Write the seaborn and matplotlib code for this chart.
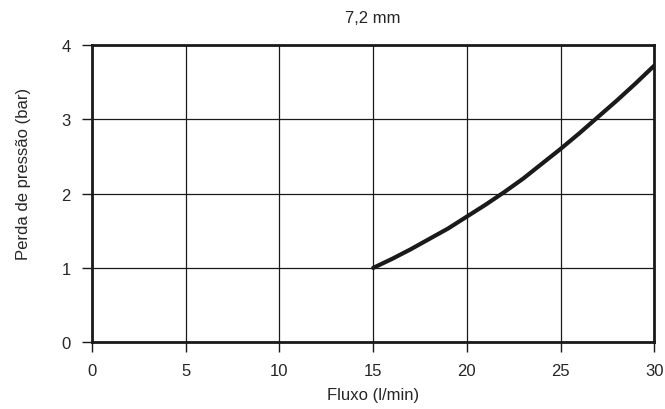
import matplotlib
matplotlib.use("Agg")
import matplotlib.pyplot as plt
import seaborn as sns
import pandas as pd

# valores (Fluxo em l/min, perda em bar)
fluxo = [15, 16, 17, 18, 19, 20, 21, 22, 23, 24, 25, 26, 27, 28, 29, 30]
perda = [1.00, 1.12, 1.25, 1.39, 1.53, 1.69, 1.85, 2.02, 2.20, 2.40, 2.60, 2.81, 3.03, 3.25, 3.48, 3.72]

df = pd.DataFrame({'fluxo': fluxo, 'perda': perda})

sns.set_style('white')
plt.rcParams['font.family'] = ['Liberation Sans', 'DejaVu Sans']

fig = plt.figure(figsize=(6.65, 4.1), dpi=100)
ax = fig.add_axes([0.1383, 0.1627, 0.8457, 0.7258])

sns.lineplot(data=df, x='fluxo', y='perda', ax=ax, color='#1a1a1a', linewidth=3)

ax.set_xlim(0, 30)
ax.set_ylim(0, 4)
ax.set_xticks([0, 5, 10, 15, 20, 25, 30])
ax.set_yticks([0, 1, 2, 3, 4])
ax.grid(True, color='#1a1a1a', linewidth=0.9)
for s in ax.spines.values():
    s.set_color('#1a1a1a')
    s.set_linewidth(2)
ax.tick_params(axis='both', direction='out', length=7.2, width=1, color='#1a1a1a',
               labelsize=12, pad=8, left=True, bottom=True)

ax.set_title('7,2 mm', fontsize=12, pad=16)
ax.set_xlabel('Fluxo (l/min)', fontsize=12, labelpad=6)
ax.set_ylabel('Perda de pressão (bar)', fontsize=12, labelpad=22, y=0.57)

plt.savefig('out.png', dpi=100)
